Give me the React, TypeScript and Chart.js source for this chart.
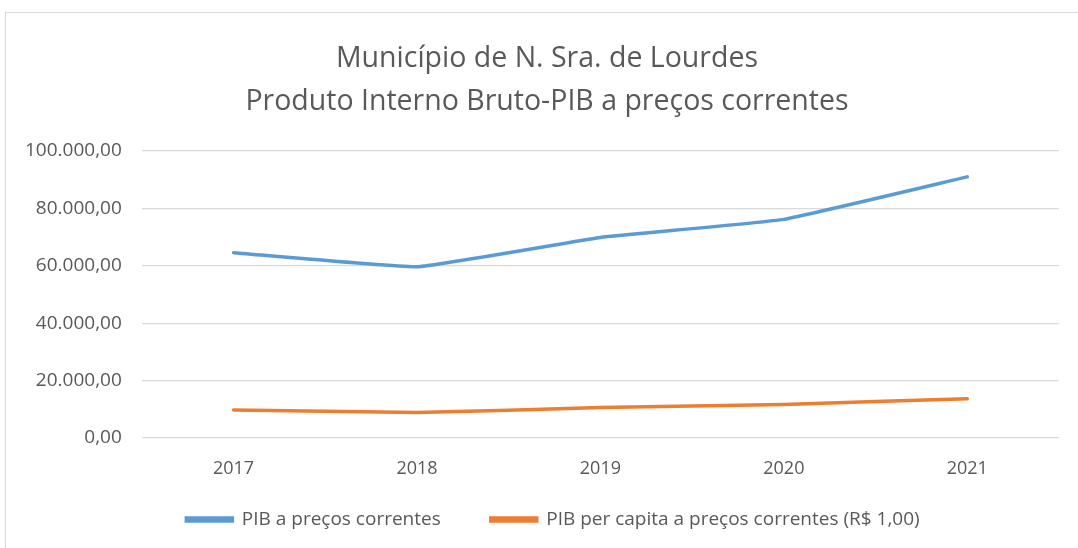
import React, { useEffect, useRef } from "react";
import { Chart, registerables } from "chart.js";

Chart.register(...registerables);

const titleLines = ["Município de N. Sra. de Lourdes", "Produto Interno Bruto-PIB a preços correntes"];
const years = ["2017", "2018", "2019", "2020", "2021"];
const pibCorrentes = [64600, 59700, 69900, 76200, 91000];
const pibPerCapita = [9800, 8900, 10600, 11700, 13700];
const seriesNames = ["PIB a preços correntes", "PIB per capita a preços correntes (R$ 1,00)"];

const fmt = (v: number) =>
  v.toLocaleString("pt-BR", { minimumFractionDigits: 2, maximumFractionDigits: 2 });

// Small layout nudges (title/legend placement like the Excel original)
const nudge = {
  id: "nudge",
  afterLayout(chart: any) {
    const t = chart.titleBlock;
    if (t) {
      t.left += 15;
      t.right += 15;
    }
    const l = chart.legend;
    if (l) {
      l.top -= 18;
      l.bottom -= 18;
      l.left += 21;
      l.right += 21;
    }
  },
};

export default function App() {
  const ref = useRef<HTMLCanvasElement | null>(null);
  useEffect(() => {
    document.body.style.margin = "0";
    const font = "'Open Sans', 'Noto Sans', sans-serif";
    const chart = new Chart(ref.current!, {
      type: "line",
      data: {
        labels: years,
        datasets: [
          {
            label: seriesNames[0],
            data: pibCorrentes,
            borderColor: "#5B9BD5",
            backgroundColor: "#5B9BD5",
            borderWidth: 3.5,
            pointRadius: 0,
            tension: 0.1,
            borderCapStyle: "round",
          },
          {
            label: seriesNames[1],
            data: pibPerCapita,
            borderColor: "#ED7D31",
            backgroundColor: "#ED7D31",
            borderWidth: 3.5,
            pointRadius: 0,
            tension: 0.1,
            borderCapStyle: "round",
          },
        ],
      },
      plugins: [nudge],
      options: {
        responsive: false,
        animation: false,
        layout: { padding: { top: 37, left: 5, right: 19, bottom: 0 } },
        plugins: {
          title: {
            display: true,
            text: titleLines,
            color: "#595959",
            font: { family: font, size: 28.5, weight: "normal", lineHeight: 1.51 },
            padding: { top: 0, bottom: 28 },
          },
          legend: {
            position: "bottom",
            maxHeight: 70,
            labels: {
              color: "#595959",
              font: { family: font, size: 19 },
              boxWidth: 46,
              boxHeight: 3,
              padding: 50,
            },
          },
          tooltip: { enabled: false },
        },
        scales: {
          x: {
            offset: true,
            grid: { display: false, drawTicks: false },
            border: { display: false },
            ticks: { color: "#595959", font: { family: font, size: 18 }, padding: 20 },
            afterFit: (s: any) => {
              s.height = 40;
            },
          },
          y: {
            min: 0,
            max: 100000,
            grid: { color: "#d9d9d9", lineWidth: 1.2, drawTicks: false },
            border: { display: false },
            ticks: {
              stepSize: 20000,
              color: "#595959",
              font: { family: font, size: 19 },
              padding: 20,
              callback: (v: any) => fmt(Number(v)),
            },
          },
        },
      },
    });
    return () => chart.destroy();
  }, []);
  return (
    <div style={{ position: "relative", width: 1078, height: 548, background: "#fff", overflow: "hidden" }}>
      <canvas ref={ref} width={1078} height={548} style={{ position: "absolute", left: 0, top: 0 }} />
      <div
        style={{
          position: "absolute",
          left: 5,
          top: 12,
          width: 1090,
          height: 560,
          border: "1px solid #d9d9d9",
          pointerEvents: "none",
        }}
      />
    </div>
  );
}
